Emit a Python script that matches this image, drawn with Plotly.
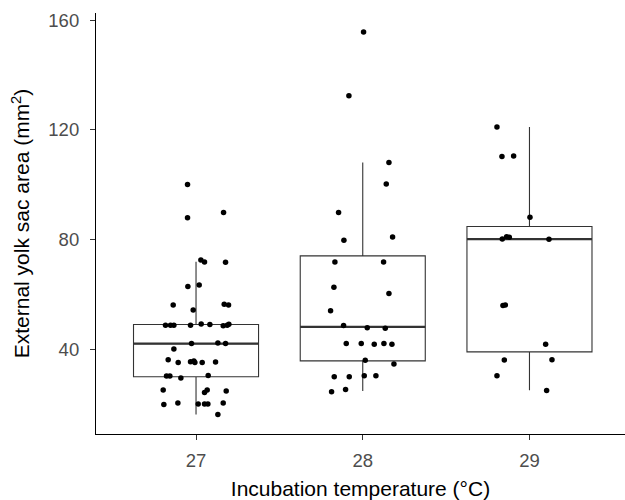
import plotly.graph_objects as go

# ---- data ----
categories = [27, 28, 29]
tick_labels = ["27", "28", "29"]

# box statistics
box_q1 = [29.9, 35.7, 39.0]
box_median = [42.0, 48.1, 80.1]
box_q3 = [49.0, 74.0, 84.7]
box_lower = [16.1, 24.7, 25.0]
box_upper = [71.9, 108.1, 121.0]

# jittered observations: horizontal offset from category centre, and value
off_27 = [-0.051, -0.051, 0.165, 0.029, 0.051, 0.177, -0.049, 0.019, -0.137, -0.017, 0.169, 0.195,
          -0.183, -0.153, -0.133, -0.033, 0.031, 0.083, 0.163, 0.187, 0.197,
          -0.027, 0.131, 0.177, -0.133,
          -0.167, -0.107, -0.033, -0.013, -0.007, 0.037, 0.117,
          -0.177, -0.157, -0.091, 0.073,
          -0.197, 0.051, 0.067, 0.181, -0.193, -0.109,
          0.013, 0.051, 0.071, 0.163, 0.131]
val_27 = [100.0, 87.9, 89.8, 72.5, 71.8, 71.7, 62.8, 63.4, 56.1, 54.3, 56.4, 56.1,
          48.7, 48.7, 48.7, 48.7, 49.2, 49.0, 48.5, 48.7, 49.1,
          42.0, 42.2, 42.0, 40.0,
          36.1, 35.1, 35.4, 35.7, 35.1, 35.1, 35.3,
          30.2, 30.2, 29.5, 30.4,
          25.1, 24.2, 25.1, 24.7, 19.8, 20.3,
          20.0, 20.0, 20.0, 20.3, 16.1]

off_28 = [0.005, -0.083, 0.157, 0.141, -0.145, -0.113, 0.179, -0.167, 0.125, -0.173, 0.157,
          -0.193, -0.115, 0.027, 0.135,
          -0.099, -0.009, 0.069, 0.127, 0.175,
          0.015, 0.187, -0.171, -0.081, 0.009, 0.079, -0.187, -0.103]
val_28 = [155.7, 132.4, 108.1, 100.2, 89.8, 79.7, 80.9, 71.8, 71.8, 62.6, 60.3,
          54.0, 48.6, 47.8, 47.6,
          42.0, 42.0, 41.8, 42.0, 41.8,
          35.9, 34.6, 29.9, 29.9, 30.3, 30.3, 24.4, 25.3]

off_29 = [-0.195, -0.165, -0.095, 0.003, -0.137, -0.121, -0.163, 0.117, -0.159, -0.145,
          0.097, -0.151, 0.135, -0.195, 0.103]
val_29 = [121.0, 110.3, 110.4, 88.1, 81.0, 80.8, 80.2, 80.1, 55.9, 56.1,
          41.8, 36.0, 36.1, 30.3, 24.9]

y_ticks = [40, 80, 120, 160]

# ---- styling ----
BOX_W = 0.75
BOX_LINE = "#333333"
FONT = "Liberation Sans, Arial, sans-serif"

fig = go.Figure()

fig.add_trace(go.Box(
    x=categories, q1=box_q1, median=box_median, q3=box_q3,
    lowerfence=box_lower, upperfence=box_upper,
    width=BOX_W, fillcolor="white", whiskerwidth=0,
    line=dict(color=BOX_LINE, width=1.1),
    boxpoints=False, showlegend=False, hoverinfo="skip",
))

# thicker median segments
mx, my = [], []
for c, m in zip(categories, box_median):
    mx += [c - BOX_W / 2, c + BOX_W / 2, None]
    my += [m, m, None]
fig.add_trace(go.Scatter(x=mx, y=my, mode="lines",
                         line=dict(color=BOX_LINE, width=2.4),
                         showlegend=False, hoverinfo="skip"))

for c, offs, vals in zip(categories, [off_27, off_28, off_29], [val_27, val_28, val_29]):
    fig.add_trace(go.Scatter(
        x=[c + o for o in offs], y=vals, mode="markers",
        marker=dict(color="black", size=5.5, line=dict(width=0)),
        showlegend=False,
    ))

fig.update_layout(
    width=625, height=500,
    margin=dict(l=96, r=0, t=13, b=66),
    plot_bgcolor="white", paper_bgcolor="white",
    font=dict(family=FONT, color="black"),
)

fig.update_xaxes(
    range=[26.4, 29.573], automargin=False,
    tickmode="array", tickvals=categories, ticktext=tick_labels,
    showline=True, linecolor="black", linewidth=1.2,
    ticks="outside", ticklen=5, tickwidth=1.1, tickcolor="#333333",
    tickfont=dict(size=18.5, color="#4D4D4D", family=FONT),
    ticklabelstandoff=5,
    showgrid=False, zeroline=False,
    title=dict(text="Incubation temperature (°C)", font=dict(size=21, color="black", family=FONT), standoff=11),
)
fig.update_yaxes(
    range=[9.03, 162.6], automargin=False,
    tickmode="array", tickvals=y_ticks, ticktext=[str(t) for t in y_ticks],
    showline=True, linecolor="black", linewidth=1.2,
    ticks="outside", ticklen=5, tickwidth=1.1, tickcolor="#333333",
    tickfont=dict(size=18.5, color="#4D4D4D", family=FONT),
    ticklabelstandoff=7,
    showgrid=False, zeroline=False,
    title=dict(text="External yolk sac area (mm<sup>2</sup>)", font=dict(size=21, color="black", family=FONT), standoff=12),
)

fig.write_html(
    "out.html",
    config={"displayModeBar": False},
    post_script="document.body.style.margin='0';document.body.style.overflow='hidden';",
)
